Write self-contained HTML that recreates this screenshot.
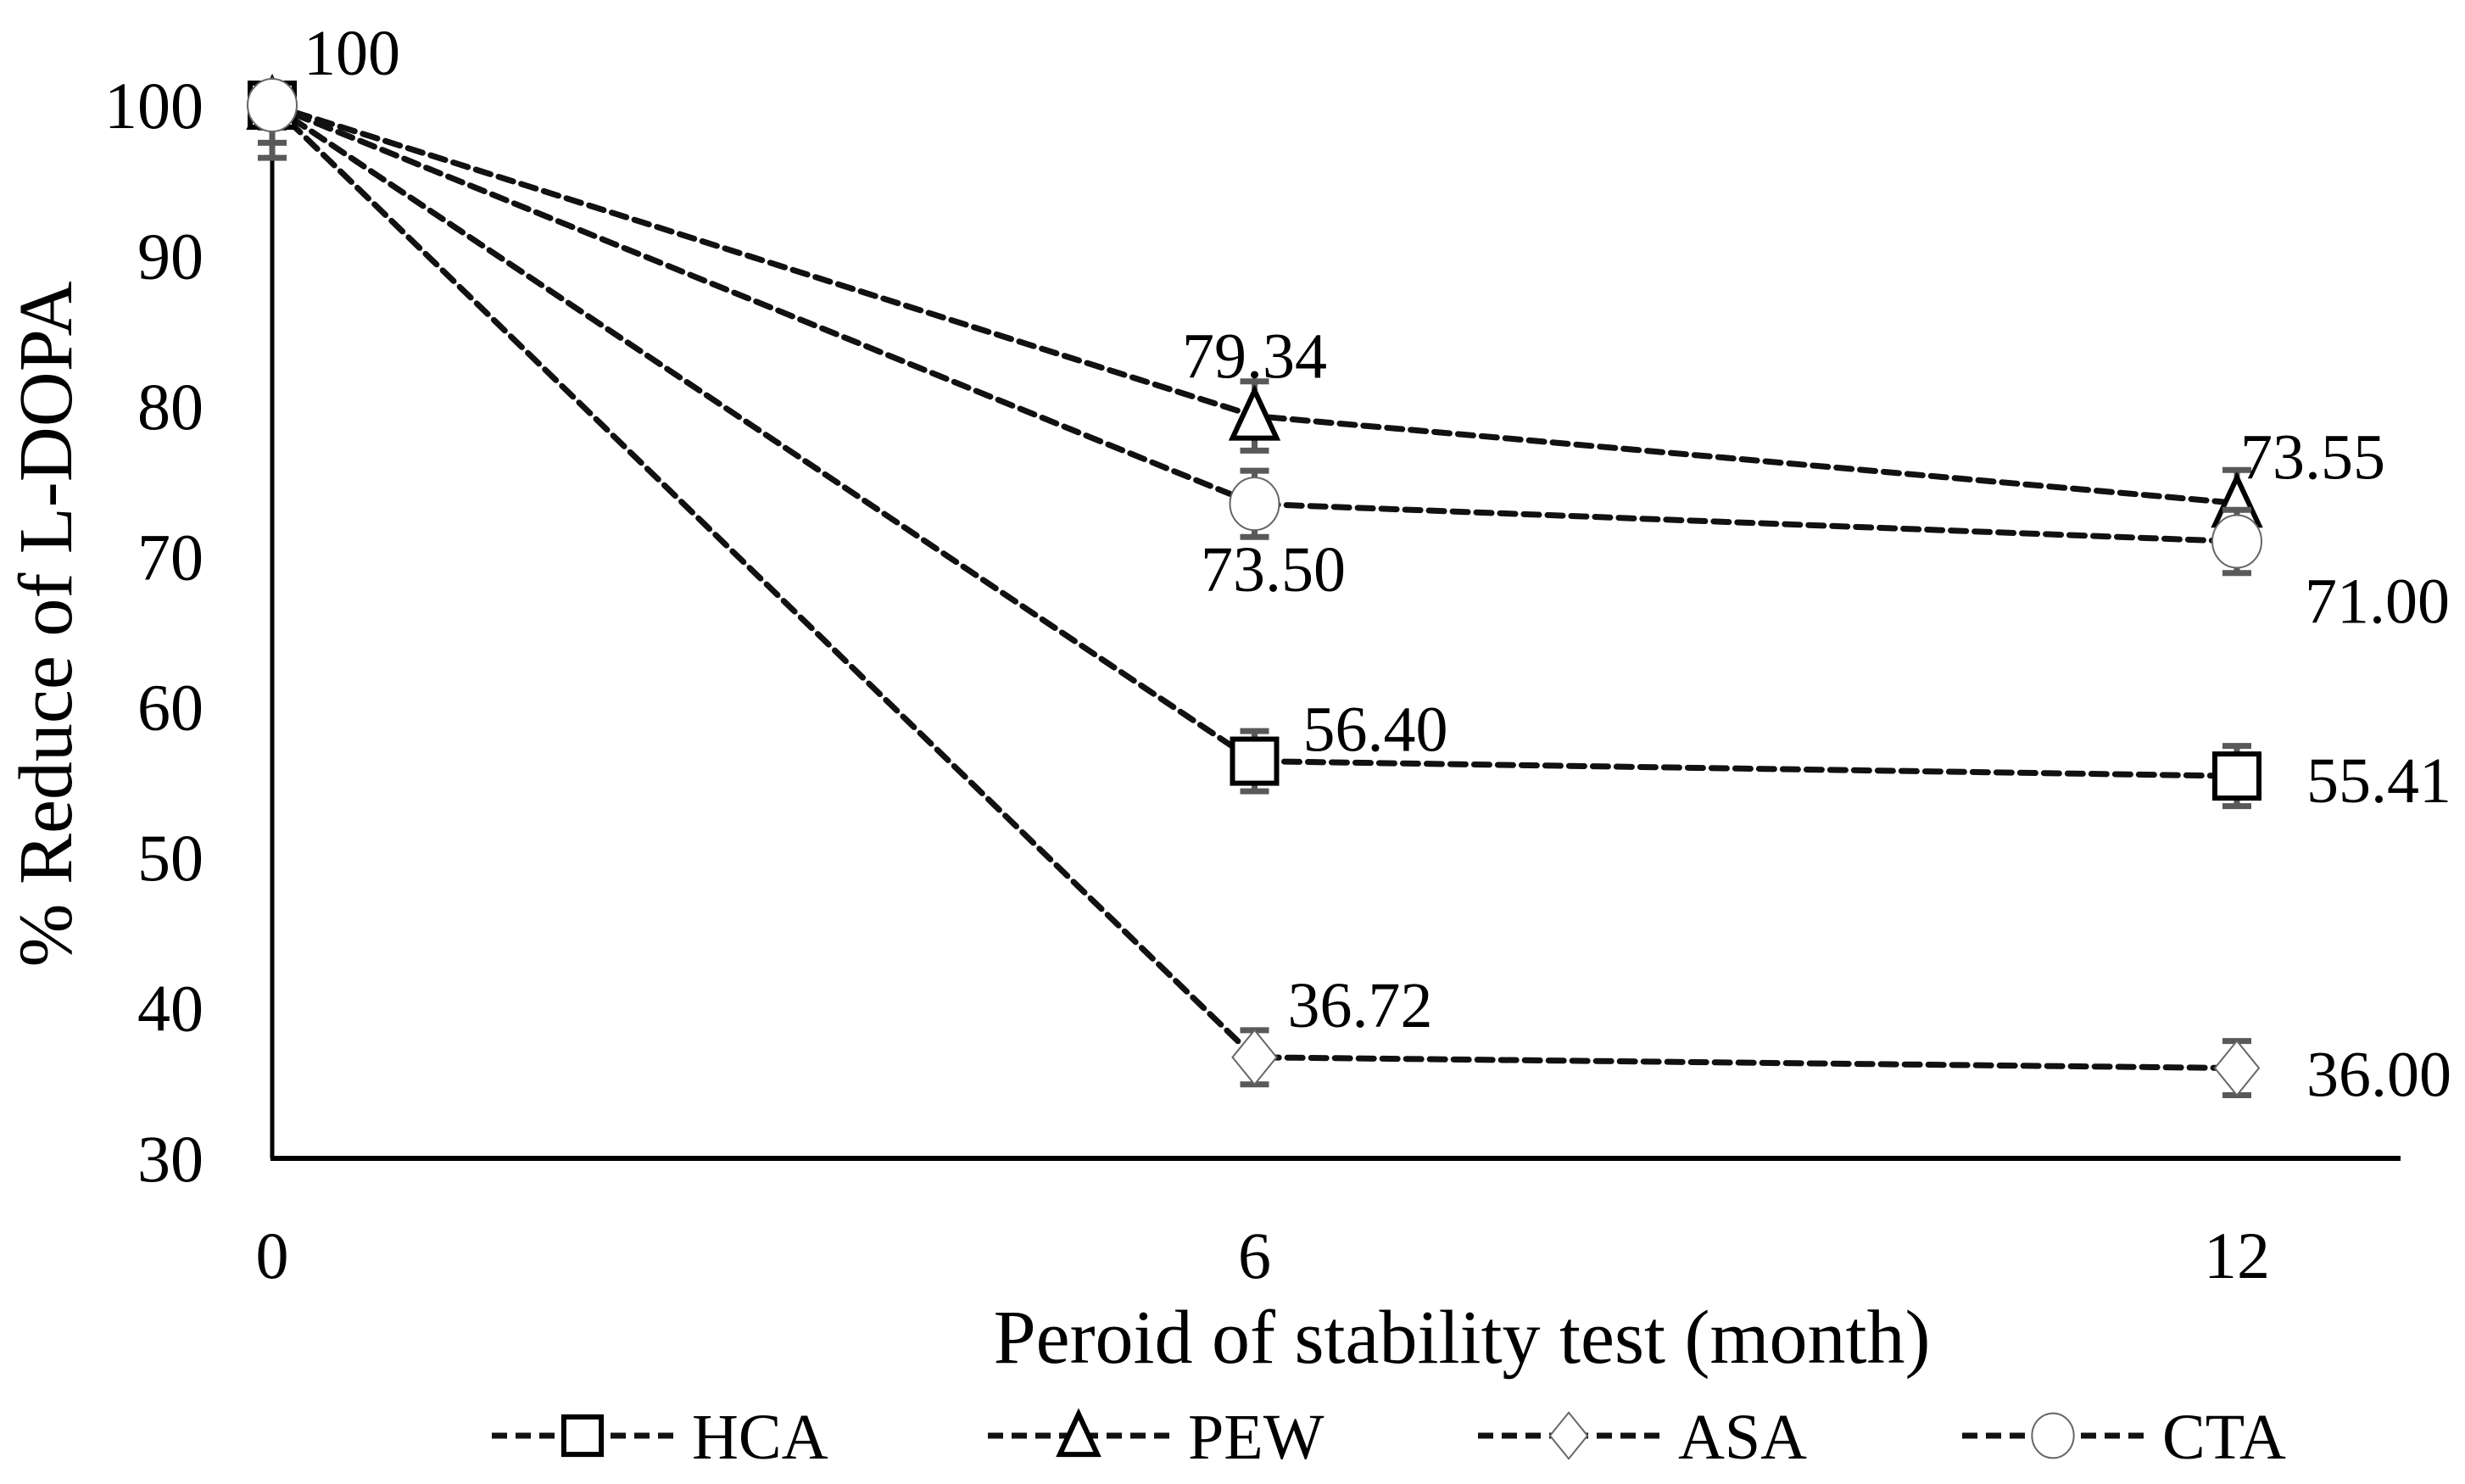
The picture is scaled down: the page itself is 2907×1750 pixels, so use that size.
<!DOCTYPE html>
<html><head><meta charset="utf-8"><style>
html,body{margin:0;padding:0;background:#fff;}
svg{display:block;font-family:"Liberation Serif",serif;}
</style></head><body>
<svg id="chart" width="2907" height="1750" viewBox="0 0 2907 1750" xmlns="http://www.w3.org/2000/svg">
</svg>
<script>
const months = [0, 6, 12];
const seriesNames = ["HCA", "PEW", "ASA", "CTA"];
const hcaValues = [100, 56.40, 55.41];
const pewValues = [100, 79.34, 73.55];
const asaValues = [100, 36.72, 36.00];
const ctaValues = [100, 73.50, 71.00];
const hcaErr = [1.5, 2.0, 2.0];
const pewErr = [2.5, 2.3, 2.2];
const asaErr = [3.5, 1.8, 1.8];
const ctaErr = [0, 2.2, 2.1];
const hcaLabels = ["", "56.40", "55.41"];
const pewLabels = ["", "79.34", "73.55"];
const asaLabels = ["", "36.72", "36.00"];
const ctaLabels = ["100", "73.50", "71.00"];
const yTicks = [30, 40, 50, 60, 70, 80, 90, 100];
const xTicks = [0, 6, 12];

const NS = "http://www.w3.org/2000/svg";
const svg = document.getElementById("chart");
const X0 = 321, X12 = 2638, Y30 = 1366, Y100 = 124;
const xs = v => X0 + (v - 0) / 12 * (X12 - X0);
const ys = v => Y30 - (v - 30) / 70 * (Y30 - Y100);
function mk(tag, attrs, parent) {
  const e = document.createElementNS(NS, tag);
  for (const k in attrs) e.setAttribute(k, attrs[k]);
  (parent || svg).appendChild(e);
  return e;
}
let yAxis = mk("line", {x1: X0, y1: Y100 - 5, x2: X0, y2: Y30, stroke: "#000", "stroke-width": 5});


let xAxis = mk("line", {x1: X0 - 2, y1: Y30, x2: 2831, y2: Y30, stroke: "#000", "stroke-width": 6});


yTicks.forEach(t => {
  const tx = mk("text", {x: 240, y: ys(t) + 27, "text-anchor": "end", "font-size": 78});
  tx.textContent = t;
  
  
});
xTicks.forEach(t => {
  const tx = mk("text", {x: xs(t), y: 1507, "text-anchor": "middle", "font-size": 78});
  tx.textContent = t;
  
  
});
let yt = mk("text", {x: 0, y: 0, "text-anchor": "middle", "font-size": 90, transform: "translate(84,736) rotate(-90)"});
yt.textContent = "% Reduce of L-DOPA";


let xt = mk("text", {x: 1724, y: 1607, "text-anchor": "middle", "font-size": 90});
xt.textContent = "Peroid of stability test (month)";



function marker(kind, cx, cy, parent, scale) {
  const s = scale || 1;
  let m;
  if (kind === "HCA") m = mk("rect", {x: cx - 26*s, y: cy - 26*s, width: 52*s, height: 52*s, fill: "#fff", stroke: "#000", "stroke-width": 6}, parent);
  else if (kind === "PEW") m = mk("polygon", {points: `${cx},${cy-30*s} ${cx+26*s},${cy+26*s} ${cx-26*s},${cy+26*s}`, fill: "#fff", stroke: "#000", "stroke-width": 6}, parent);
  else if (kind === "ASA") m = mk("polygon", {points: `${cx},${cy-32*s} ${cx+26*s},${cy} ${cx},${cy+32*s} ${cx-26*s},${cy}`, fill: "#fff", stroke: "#666", "stroke-width": 2}, parent);
  else m = mk("ellipse", {cx: cx, cy: cy, rx: 29*s, ry: 31*s, fill: "#fff", stroke: "#666", "stroke-width": 2}, parent);
  return m;
}
const allVals = [hcaValues, pewValues, asaValues, ctaValues];
const allErr = [hcaErr, pewErr, asaErr, ctaErr];
const allLabels = [hcaLabels, pewLabels, asaLabels, ctaLabels];
const labelOffsets = {
  HCA: [[0,0],[57,-39],[82,4]],
  PEW: [[0,0],[0,-72],[4,-56]],
  ASA: [[0,0],[39,-63],[82,6]],
  CTA: [[37,-63],[22,76],[80,69]]
};
const labelCentered = {HCA:[0,0,0], PEW:[0,1,0], ASA:[0,0,0], CTA:[0,1,0]};
const order = [1, 2, 0, 3];
order.forEach(i => {
  const name = seriesNames[i];
  const g = mk("g", {});
  
  
  const vals = allVals[i], errs = allErr[i];
  const pts = months.map((m, j) => xs(m) + "," + ys(vals[j])).join(" ");
  const pl = mk("polyline", {points: pts, fill: "none", stroke: "#111", "stroke-width": 7, "stroke-dasharray": "18 10", "stroke-linecap": "round"}, g);
  
  
  months.forEach((m, j) => {
    const cx = xs(m), cy = ys(vals[j]);
    if (errs[j] > 0) {
      const top = j === 0 ? cy : ys(vals[j] + errs[j]);
      const bot = ys(vals[j] - errs[j]);
      const eb = mk("path", {d: `M${cx},${top}V${bot}M${cx-17},${bot}H${cx+17}` + (j === 0 ? "" : `M${cx-17},${top}H${cx+17}`), stroke: "#595959", "stroke-width": 7, fill: "none"}, g);
      
      
    }
    const mm = marker(name, cx, cy, g);
    
    
    const lab = allLabels[i][j];
    if (lab) {
      const off = labelOffsets[name][j];
      const t = mk("text", {x: cx + off[0], y: cy + off[1] + 27, "text-anchor": labelCentered[name][j] ? "middle" : "start", "font-size": 76}, g);
      t.textContent = lab;
      
      
    }
  });
});
const legendX = [580, 1165, 1743, 2314];
seriesNames.forEach((name, i) => {
  const g = mk("g", {});
  
  
  const lx = legendX[i], ly = 1693;
  mk("line", {x1: lx, y1: ly, x2: lx + 217, y2: ly, stroke: "#111", "stroke-width": 7, "stroke-dasharray": "18 10"}, g);
  marker(name, lx + 107, ly, g, 0.85);
  const t = mk("text", {x: lx + 236, y: ly + 27, "font-size": 76}, g);
  t.textContent = name;
});
</script>
</body></html>
